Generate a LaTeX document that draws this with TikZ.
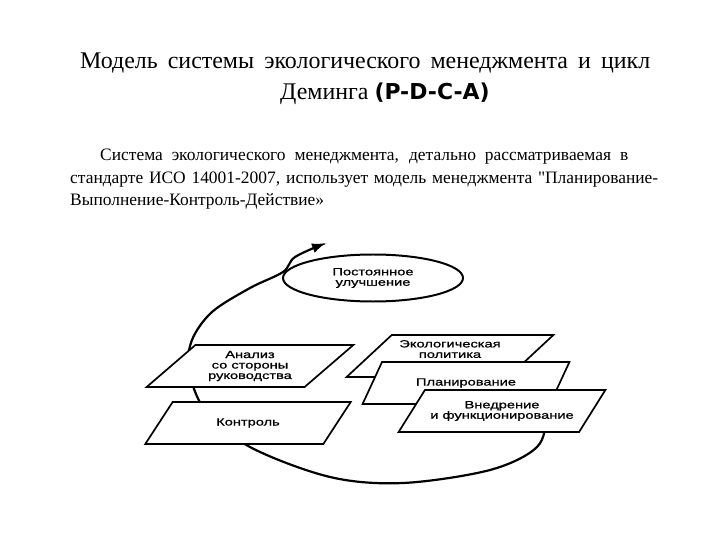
\documentclass[tikz,border=0pt]{standalone}
\usepackage{fontspec}
\setmainfont{Liberation Serif}[Ligatures=TeXOff]
\newfontfamily\boxfont{Liberation Sans}[FakeStretch=1.4,FakeBold=1]
\newfontfamily\pdcafont{DejaVu Sans}
\usetikzlibrary{shapes.geometric,arrows.meta}
\tikzset{stage/.style={draw, fill=white, line width=1.7pt,
  trapezium, trapezium left angle=39, trapezium right angle=141,
  trapezium stretches=true, minimum width=207bp, minimum height=42bp,
  inner sep=0pt, align=center, font=\boxfont\fontsize{10.5}{10.5}\selectfont}}
\tikzset{cycle loop/.style={line width=2.2pt, -{Latex[length=14bp,width=10bp]}}}
\tikzset{line/.style={anchor=base west, inner sep=0pt}}

\begin{document}
\begin{tikzpicture}[x=1bp,y=-1bp]
  \useasboundingbox (0,0) rectangle (720,540);

  % heading
  \node [line, font=\fontsize{24}{30}\selectfont] (title1) at (80,69)
    {\makebox[570bp][s]{Модель системы экологического менеджмента и цикл}};
  \node [line, font=\fontsize{24}{30}\selectfont] (title2) at (280,100)
    {Деминга {\pdcafont\bfseries\fontsize{22}{30}\selectfont (P-D-C-A)}};

  % paragraph
  \node [line, font=\fontsize{17.5}{22}\selectfont] (par1) at (100,161)
    {\makebox[528bp][s]{Система экологического менеджмента, детально рассматриваемая в}};
  \node [line, font=\fontsize{17.5}{22}\selectfont] (par2) at (70,184)
    {\makebox[588bp][s]{стандарте ИСО 14001-2007, использует модель менеджмента "Планирование-}};
  \node [line, font=\fontsize{17.5}{22}\selectfont] (par3) at (70,206)
    {Выполнение-Контроль-Действие»};

  \node [draw, ellipse, line width=2pt, minimum width=180bp, minimum height=47bp,
    inner sep=0pt, align=center, font=\boxfont\fontsize{10.5}{10.5}\selectfont]
    (improve) at (373,278) {Постоянное\\улучшение};

  % the cycle, drawn under the boxes
  \coordinate (start) at (500,343);
  \coordinate (tip) at (326,243);
  \draw [cycle loop] plot [smooth, tension=0.55] coordinates {(start) (523,360) (541,385)
    (546,415) (537,447) (490,470) (403,483) (330,477) (250,447) (205,410) (189,370)
    (192,340) (212,312) (250,288) (283,272) (295,257) (tip)};

  \node [stage] (review) at (250,366) {Анализ\\со стороны\\руководства};
  \node [stage] (check) at (248,423) {Контроль};
  \node [stage, text depth=14bp] (policy) at (450,356) {Экологическая\\политика};
  \node [stage] (plan) at (466,383) {Планирование};
  \node [stage] (do) at (502,411) {Внедрение\\и функционирование};
\end{tikzpicture}
\end{document}
